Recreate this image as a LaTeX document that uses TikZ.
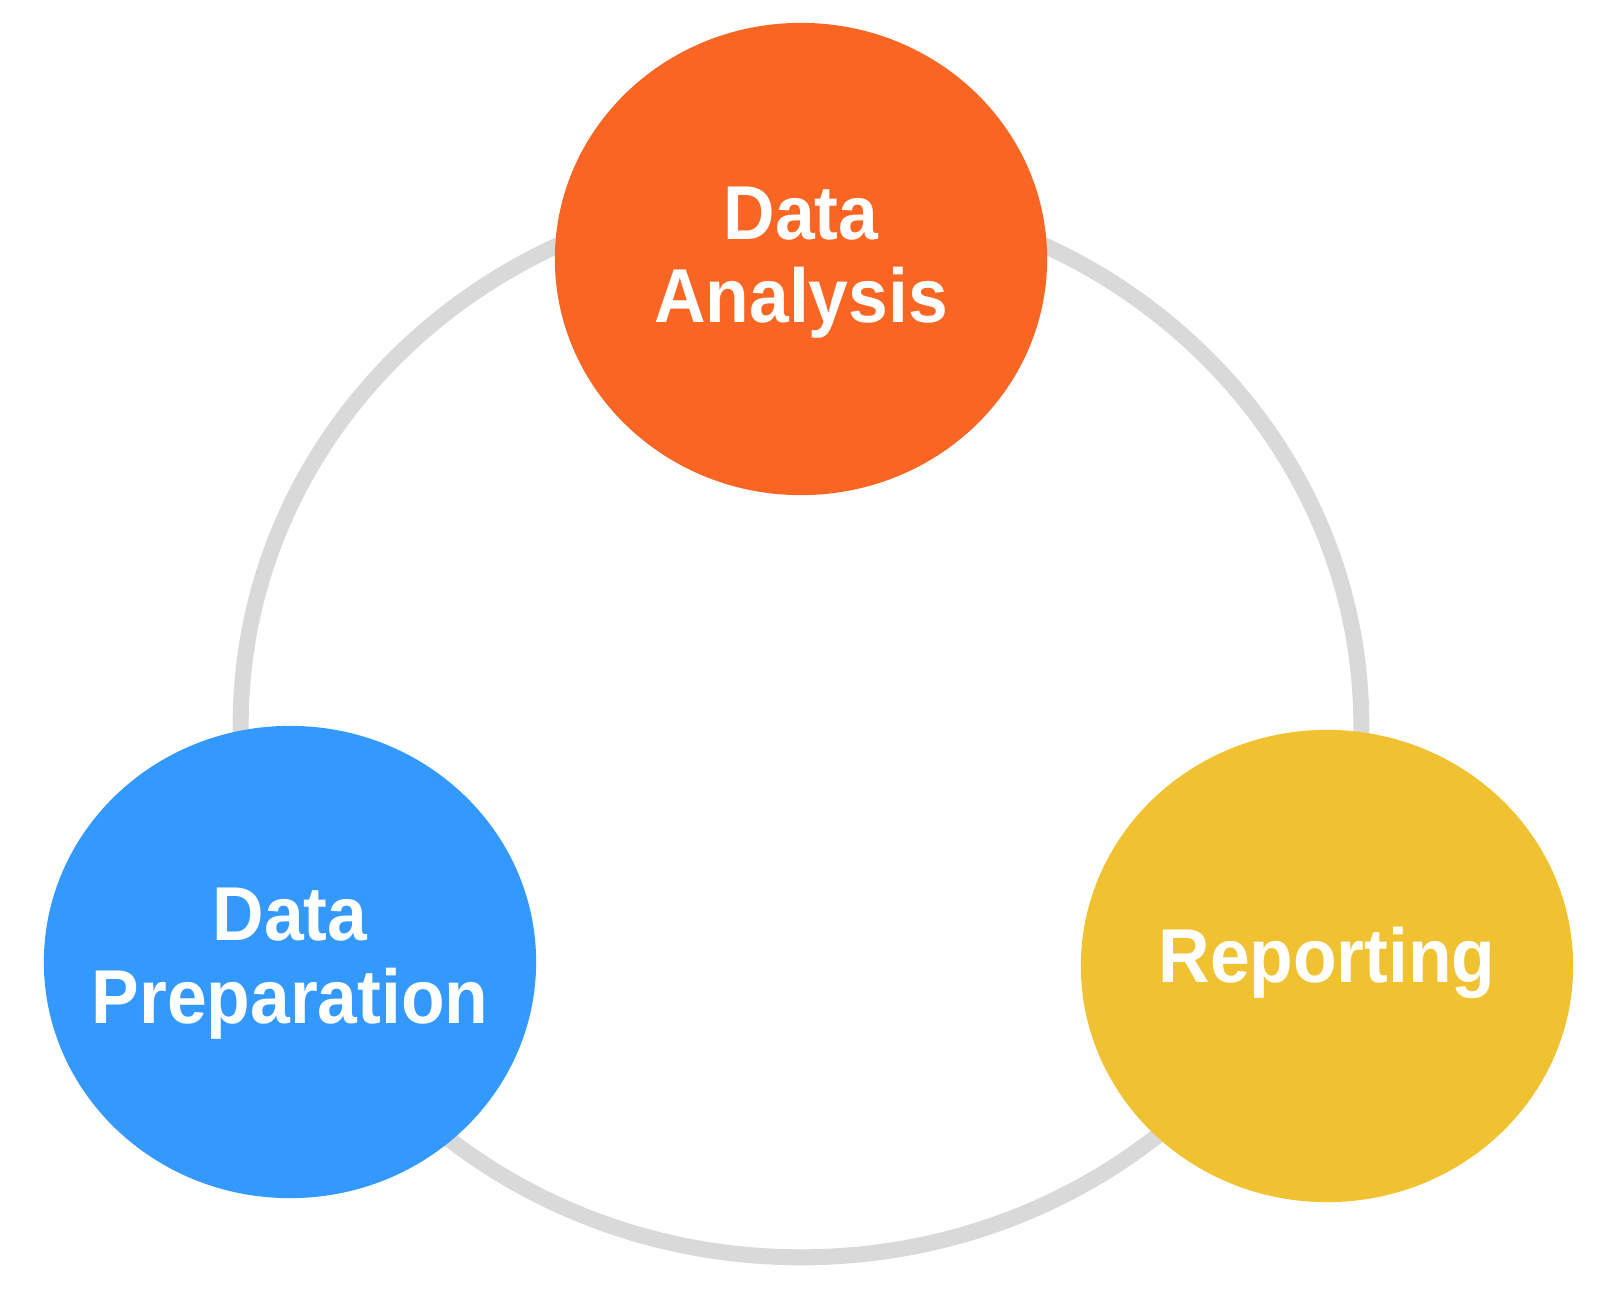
\documentclass[tikz,border=0pt]{standalone}
\usepackage{fontspec}
\setmainfont{Liberation Sans}
\usetikzlibrary{shapes.geometric}
\definecolor{analysisorange}{RGB}{249,102,36}
\definecolor{prepblue}{RGB}{51,153,255}
\definecolor{reportyellow}{RGB}{240,194,50}
\definecolor{ringgray}{RGB}{217,217,217}

\begin{document}
\begin{tikzpicture}[x=0.01cm,y=-0.01cm,
  stage/.style={ellipse, minimum width=4.92cm, minimum height=4.72cm, inner sep=0pt},
  stagetext/.style={text=white, align=center, inner sep=0pt, yscale=1.07, transform shape,
    font=\fontsize{20.3}{22.1}\selectfont\bfseries},
  ring/.style={ellipse, draw=ringgray, line width=0.16cm,
    minimum width=11.2cm, minimum height=10.64cm, inner sep=0pt}]
  \useasboundingbox (0,0) rectangle (1614,1290);

  \node[ring] (cycle) at (801,725) {}; % grey loop behind the stages

  \node[stage, fill=analysisorange] (analysis) at (801,259) {};
  \node[stage, fill=prepblue] (preparation) at (290,962) {};
  \node[stage, fill=reportyellow] (reporting) at (1327,966) {};

  % labels, a little below the centres
  \node[stagetext] (analysistext) at (801,263) {Data\\Analysis};
  \node[stagetext] (preparationtext) at (290,964) {Data\\Preparation};
  \node[stagetext] (reportingtext) at (1327,963) {Reporting};
\end{tikzpicture}
\end{document}
